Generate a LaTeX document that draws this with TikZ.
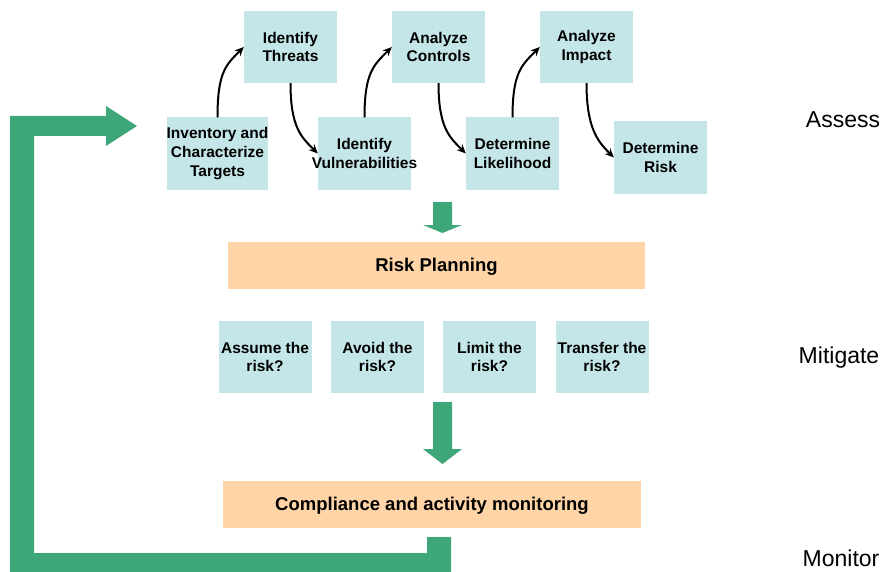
\documentclass[tikz,border=0pt]{standalone}
\usepackage{fontspec}
\setmainfont{Liberation Sans}
\usetikzlibrary{arrows.meta}
\definecolor{boxblue}{HTML}{C5E6E8}
\definecolor{boxorange}{HTML}{FFD5A8}
\definecolor{flowgreen}{HTML}{3EA77A}
\begin{document}
\begin{tikzpicture}[x=1pt,y=-1pt,
  bluebox/.style={fill=boxblue, draw=none, minimum width=93pt, minimum height=72pt, inner sep=0pt, align=center, font=\fontsize{15.5}{18.7}\selectfont\bfseries},
  orangebox/.style={fill=boxorange, draw=none, minimum height=47pt, inner sep=0pt, align=center, text height=12pt, text depth=0pt, font=\fontsize{18.5}{22}\selectfont\bfseries},
  phase/.style={font=\fontsize{23}{27}\selectfont, inner sep=0pt},
  curv/.style={draw=black, line width=2pt, -{Stealth[length=9pt,width=8pt]}},
  blockarrow/.style={fill=flowgreen, draw=none}]
\useasboundingbox (0,0) rectangle (885,572);

% top row
\node[bluebox] (inv) at (217.5,153.5) {Inventory and\\Characterize\\Targets};
\node[bluebox] (thr) at (290.5,47) {Identify\\Threats};
\node[bluebox] (vul) at (364.5,153.5) {Identify\\\makebox[80pt][c]{Vulnerabilities}};
\node[bluebox] (ctl) at (438.5,47) {Analyze\\Controls};
\node[bluebox] (lik) at (512.5,153.5) {Determine\\Likelihood};
\node[bluebox] (imp) at (586.5,47) {Analyze\\Impact};
\node[bluebox] (rsk) at (660.5,157.5) {Determine\\Risk};

% curved arrows
\draw[curv] (inv.north) .. controls +(0,-45) and +(-18,18) .. (thr.west);
\draw[curv] (thr.south) .. controls +(0,45) and +(-16,-16) .. (vul.west);
\draw[curv] (vul.north) .. controls +(0,-45) and +(-18,18) .. (ctl.west);
\draw[curv] (ctl.south) .. controls +(0,45) and +(-16,-16) .. (lik.west);
\draw[curv] (lik.north) .. controls +(0,-45) and +(-18,18) .. (imp.west);
\draw[curv] (imp.south) .. controls +(0,45) and +(-16,-16) .. (rsk.west);

% planning
\node[orangebox, minimum width=417pt] (plan) at (436.5,265.5) {Risk Planning};

\node[bluebox] (ass) at (265,357) {Assume the\\risk?};
\node[bluebox] (avo) at (377.5,357) {Avoid the\\risk?};
\node[bluebox] (lim) at (489.5,357) {Limit the\\risk?};
\node[bluebox] (tra) at (602,357) {Transfer the\\risk?};

\node[orangebox, minimum width=418pt] (comp) at (432,504.5) {Compliance and activity monitoring};

% block arrows
\fill[blockarrow] (433,202) -- (452,202) -- (452,225) -- (462,225) -- (442.5,233) -- (423,225) -- (433,225) -- cycle;
\fill[blockarrow] (433,402) -- (452,402) -- (452,449) -- (462,449) -- (442.5,464) -- (423,449) -- (433,449) -- cycle;

% feedback loop
\fill[blockarrow] (10,116) -- (106,116) -- (106,106) -- (137,126) -- (106,146) -- (106,136) -- (34,136) -- (34,553) -- (427,553) -- (427,537) -- (451,537) -- (451,572) -- (10,572) -- cycle;

% phase labels
\node[phase] (assess) at (843,120) {Assess};
\node[phase] (mitigate) at (839,358) {Mitigate};
\node[phase] (monitor) at (841,558) {Monitor};
\end{tikzpicture}
\end{document}
